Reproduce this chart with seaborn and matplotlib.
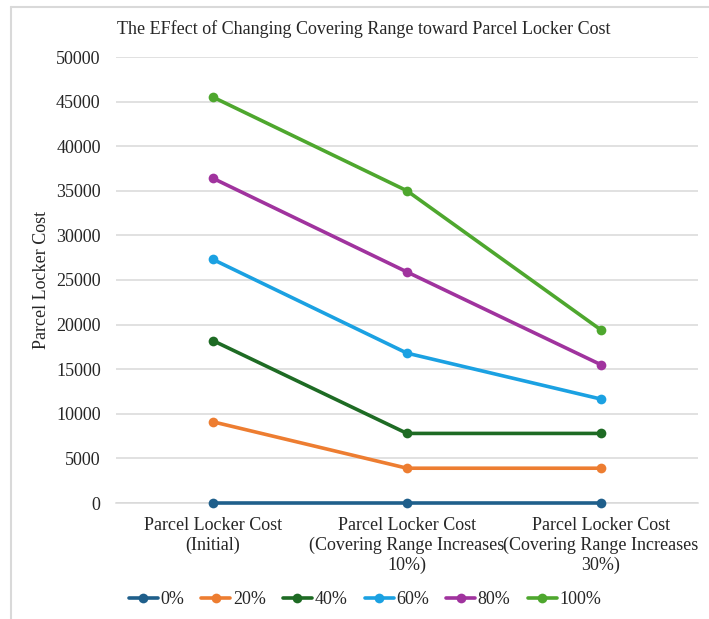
import matplotlib
matplotlib.use("Agg")
import matplotlib.pyplot as plt
from matplotlib.lines import Line2D
import seaborn as sns
import pandas as pd

stages = [
    "Parcel Locker Cost\n(Initial)",
    "Parcel Locker Cost\n(Covering Range Increases\n10%)",
    "Parcel Locker Cost\n(Covering Range Increases\n30%)",
]
shares = ["0%", "20%", "40%", "60%", "80%", "100%"]
cost_0 = [0, 0, 0]
cost_20 = [9100, 3900, 3900]
cost_40 = [18200, 7800, 7800]
cost_60 = [27300, 16800, 11650]
cost_80 = [36400, 25900, 15500]
cost_100 = [45500, 35000, 19400]
colors = ["#1F5F8B", "#ED7D31", "#1E6B24", "#1BA1E2", "#A0339E", "#4EA72E"]

series = [cost_0, cost_20, cost_40, cost_60, cost_80, cost_100]
rows = []
for share, vals in zip(shares, series):
    for stage, v in zip(stages, vals):
        rows.append({"stage": stage, "cost": v, "share": share})
df = pd.DataFrame(rows)

sns.set_theme(style="white")
plt.rcParams["font.family"] = ["Liberation Serif", "DejaVu Serif"]

fig = plt.figure(figsize=(7.09, 6.19), dpi=100)
ax = fig.add_axes([116 / 709, 1 - 503 / 619, (698 - 116) / 709, (503 - 57) / 619])

sns.lineplot(data=df, x="stage", y="cost", hue="share", hue_order=shares,
             palette=colors, marker="o", markersize=7, markeredgewidth=0,
             linewidth=2.6, sort=False, ax=ax, legend=True)
for ln in ax.lines:
    ln.set_clip_on(False)
    ln.set_zorder(3)

ax.set_xlim(-0.5, 2.5)
ax.set_ylim(0, 50000)
ax.set_yticks(range(0, 50001, 5000))
ax.yaxis.grid(True, color="#d9d9d9", linewidth=1.1)
ax.set_axisbelow(True)
for s in ["top", "right", "left"]:
    ax.spines[s].set_visible(False)
ax.spines["bottom"].set_color("#d9d9d9")
ax.spines["bottom"].set_linewidth(1.1)
ax.spines["bottom"].set_zorder(1)
ax.tick_params(axis="both", length=0, labelsize=13, colors="#262626")
ax.tick_params(axis="y", pad=11)
ax.tick_params(axis="x", pad=10)
ax.set_xlabel("")
ax.set_ylabel("Parcel Locker Cost", fontsize=13, color="#262626", labelpad=4)

handles, labels = ax.get_legend_handles_labels()
ax.legend_.remove()
fig.legend(handles, labels, loc="center", bbox_to_anchor=(365 / 709, 1 - 600 / 619),
           ncol=6, frameon=False, fontsize=13, handlelength=1.6, handletextpad=0.15,
           columnspacing=0.95, labelcolor="#262626")

fig.text(364 / 709, 1 - 29 / 619,
         "The EFfect of Changing Covering Range toward Parcel Locker Cost",
         ha="center", va="center", fontsize=13, color="#262626")

# outer chart frame (top and left edges)
fig.add_artist(Line2D([11 / 709, 11 / 709], [0, 1 - 7 / 619], transform=fig.transFigure,
                      color="#d9d9d9", linewidth=1.5))
fig.add_artist(Line2D([11 / 709, 1], [1 - 7 / 619, 1 - 7 / 619], transform=fig.transFigure,
                      color="#d9d9d9", linewidth=1.5))

fig.savefig("out.png", dpi=100, facecolor="white")
